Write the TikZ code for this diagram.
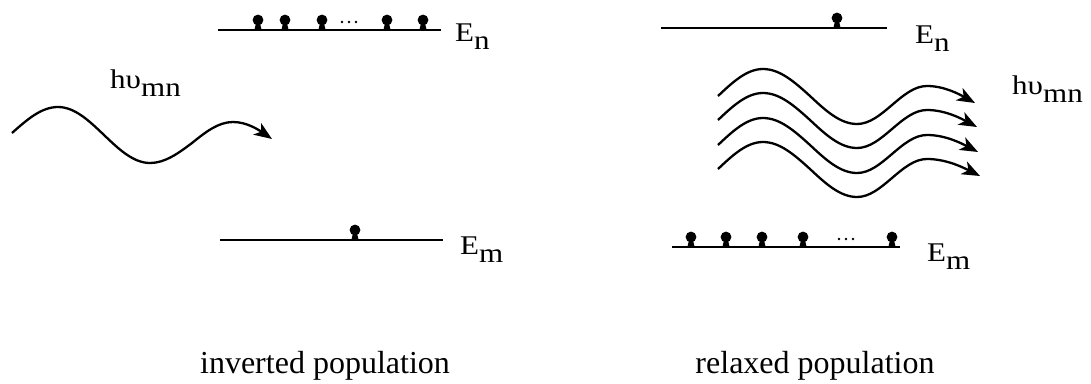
\documentclass[tikz,border=0pt]{standalone}
\usepackage{fontspec}
\setmainfont{Liberation Serif}
\newfontfamily\labelfont[FakeStretch=1.15]{Liberation Serif}
\usetikzlibrary{arrows.meta}
\newcommand{\lowsub}[1]{\raisebox{-8pt}{#1}}
\tikzset{
  level/.style={line width=2.4pt},
  photon/.style={line width=2.3pt, -{Stealth[length=18pt,width=14pt,inset=5pt]}},
  lbl/.style={anchor=base west, inner sep=0pt, font=\labelfont\fontsize{27}{31}\selectfont},
  captxt/.style={anchor=base, inner sep=0pt, font=\fontsize{32}{38}\selectfont},
  electron/.pic={
    \fill (0,-10) circle (5.4);
    \fill (-3.6,0) -- (-2.2,-6) -- (2.2,-6) -- (3.6,0) -- cycle;
  },
  ellip/.pic={
    \fill (-7,-8) circle (1.4);
    \fill (0,-8) circle (1.4);
    \fill (7,-8) circle (1.4);
  }
}
\begin{document}
\begin{tikzpicture}[x=1pt,y=-1pt]
\useasboundingbox (0,0) rectangle (1091,383);
% ---------- left: inverted population ----------
\coordinate (LnA) at (218,30);
\coordinate (LnB) at (441,30);
\coordinate (LmA) at (220,240);
\coordinate (LmB) at (443,240);
\draw[level] (LnA) -- (LnB);
\draw[level] (LmA) -- (LmB);
\foreach \x in {258,285,322,387,423} \pic at (\x,30) {electron};
\pic at (349,30) {ellip};
\pic at (355,240) {electron};
\node[lbl] (LEn) at (455,41) {E\lowsub{n}};
\node[lbl] (LEm) at (460,254) {E\lowsub{m}};
\node[lbl] (Lhv) at (110,88) {hυ\lowsub{mn}};
\draw[photon] (12,133) sin (58,107) cos (104,135) sin (150,163) cos (192,143) sin (233,122) cos (272,139);
\node[captxt] (Lcap) at (325,373) {inverted population};
% ---------- right: relaxed population ----------
\coordinate (RnA) at (661,28);
\coordinate (RnB) at (887,28);
\coordinate (RmA) at (672,247);
\coordinate (RmB) at (900,247);
\draw[level] (RnA) -- (RnB);
\draw[level] (RmA) -- (RmB);
\pic at (837,28) {electron};
\foreach \x in {691,726,762,803,892} \pic at (\x,247) {electron};
\pic at (846,247) {ellip};
\node[lbl] (REn) at (915,43) {E\lowsub{n}};
\node[lbl] (REm) at (927,261) {E\lowsub{m}};
\node[lbl] (Rhv) at (1012,94) {hυ\lowsub{mn}};
\foreach \d/\ex in {0/975,24/977,49/978,73/980}
  \draw[photon] (718,96+\d) sin (763,69+\d) cos (810,96+\d) sin (857,124+\d) cos (892,105+\d) sin (927,86+\d) cos (\ex,103+\d);
\node[captxt] (Rcap) at (815,373) {relaxed population};
\end{tikzpicture}
\end{document}
